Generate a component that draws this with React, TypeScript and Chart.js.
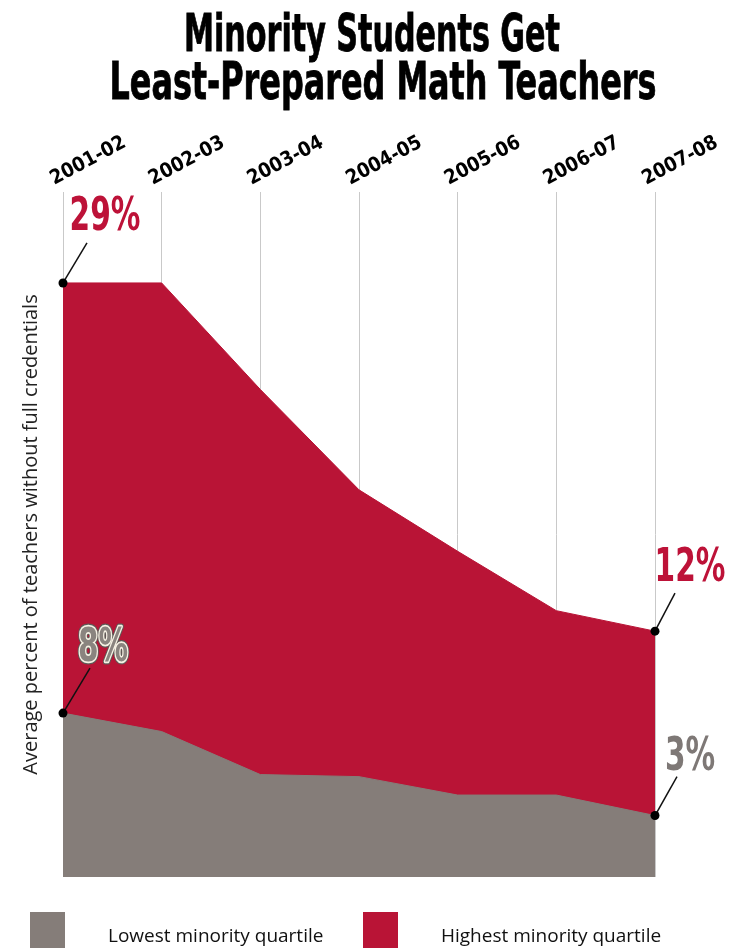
import React, { useEffect, useRef } from 'react';
import { Chart, registerables } from 'chart.js';

Chart.register(...registerables);

const TITLE_LINES = ['Minority Students Get', 'Least-Prepared Math Teachers'];
const Y_TITLE = 'Average percent of teachers without full credentials';
const YEARS = ['2001-02', '2002-03', '2003-04', '2004-05', '2005-06', '2006-07', '2007-08'];
const HIGHEST = [29, 29, 23.8, 18.9, 15.9, 13.0, 12];
const LOWEST = [8, 7.1, 5.0, 4.9, 4.0, 4.0, 3];
const SERIES_LABELS = ['Lowest minority quartile', 'Highest minority quartile'];

const GRAY = '#857d79';
const RED = '#b91436';
const COND = "'DejaVu Sans Condensed', 'DejaVu Sans', sans-serif";
const BODY = "'Open Sans', 'Noto Sans', sans-serif";

const titlePlugin = {
  id: 'condTitle',
  afterDraw(chart: any) {
    const ctx = chart.ctx;
    ctx.save();
    ctx.font = `bold 51px ${COND}`;
    ctx.fillStyle = '#000';
    ctx.textAlign = 'center';
    ctx.textBaseline = 'alphabetic';
    const pos = [
      [372, 51, 376],
      [383, 99, 547],
    ];
    TITLE_LINES.forEach((t, i) => {
      const w = ctx.measureText(t).width;
      ctx.save();
      ctx.translate(pos[i][0], pos[i][1]);
      ctx.scale(pos[i][2] / w, 1);
      ctx.fillText(t, 0, 0);
      ctx.lineWidth = 0.8;
      ctx.strokeStyle = '#000';
      ctx.strokeText(t, 0, 0);
      ctx.restore();
    });
    ctx.restore();
  },
};

function condText(ctx: any, text: string, x: number, y: number, size: number, sx: number, draw: (c: any) => void) {
  ctx.save();
  ctx.translate(x, y);
  ctx.scale(sx, 1);
  ctx.font = `bold ${size}px ${COND}`;
  ctx.textAlign = 'center';
  ctx.textBaseline = 'middle';
  draw(ctx);
  ctx.restore();
}

const annotationPlugin = {
  id: 'pctLabels',
  afterDatasetsDraw(chart: any) {
    const ctx = chart.ctx;
    const gray = chart.getDatasetMeta(0).data;
    const red = chart.getDatasetMeta(1).data;
    const last = YEARS.length - 1;
    const items = [
      { pt: red[0], v: HIGHEST[0], dx: 42, dy: -65, lx: 24, ly: -40, kind: 'red' },
      { pt: red[last], v: HIGHEST[last], dx: 35, dy: -62, lx: 20, ly: -38, kind: 'red' },
      { pt: gray[0], v: LOWEST[0], dx: 40, dy: -64, lx: 27, ly: -45, kind: 'outline' },
      { pt: gray[last], v: LOWEST[last], dx: 35, dy: -58, lx: 22, ly: -39, kind: 'gray' },
    ];
    ctx.save();
    items.forEach((it) => {
      const { x, y } = it.pt;
      ctx.beginPath();
      ctx.moveTo(x, y);
      ctx.lineTo(x + it.lx, y + it.ly);
      ctx.strokeStyle = '#111';
      ctx.lineWidth = 1.5;
      ctx.stroke();
      ctx.beginPath();
      ctx.arc(x, y, 4.5, 0, Math.PI * 2);
      ctx.fillStyle = '#000';
      ctx.fill();
      const txt = `${it.v}%`;
      condText(ctx, txt, x + it.dx, y + it.dy, 47, 0.7, (c) => {
        if (it.kind === 'red') {
          c.fillStyle = '#bd1238';
          c.fillText(txt, 0, 0);
        } else if (it.kind === 'outline') {
          c.lineJoin = 'round';
          c.strokeStyle = '#5e5a57';
          c.lineWidth = 6;
          c.strokeText(txt, 0, 0);
          c.strokeStyle = '#f6f1e4';
          c.lineWidth = 3.5;
          c.strokeText(txt, 0, 0);
          c.fillStyle = '#8a847f';
          c.fillText(txt, 0, 0);
        } else {
          c.fillStyle = '#7e7876';
          c.fillText(txt, 0, 0);
        }
      });
    });
    ctx.restore();
  },
};

const legendPlugin = {
  id: 'bottomLegend',
  afterDraw(chart: any) {
    const ctx = chart.ctx;
    const colors = [GRAY, RED];
    const boxX = [30, 363];
    ctx.save();
    SERIES_LABELS.forEach((label, i) => {
      ctx.fillStyle = colors[i];
      ctx.fillRect(boxX[i], 912, 35, 40);
      ctx.fillStyle = '#111';
      ctx.font = `19px ${BODY}`;
      ctx.textAlign = 'left';
      ctx.textBaseline = 'alphabetic';
      ctx.fillText(label, boxX[i] + 78, 942);
    });
    ctx.restore();
  },
};

export default function App() {
  const ref = useRef<HTMLCanvasElement | null>(null);

  useEffect(() => {
    if (!ref.current) return;
    const chart = new Chart(ref.current, {
      type: 'line',
      data: {
        labels: YEARS,
        datasets: [
          {
            label: SERIES_LABELS[0],
            data: LOWEST,
            backgroundColor: GRAY,
            borderColor: GRAY,
            borderWidth: 1,
            fill: 'origin',
            tension: 0,
            pointRadius: 0,
          },
          {
            label: SERIES_LABELS[1],
            data: HIGHEST,
            backgroundColor: RED,
            borderColor: RED,
            borderWidth: 1,
            fill: 'origin',
            tension: 0,
            pointRadius: 0,
          },
        ],
      },
      options: {
        animation: false,
        responsive: false,
        layout: { padding: { top: 0, left: 0, right: 83, bottom: 71 } },
        plugins: {
          legend: { display: false },
          title: { display: false },
          tooltip: { enabled: false },
        },
        scales: {
          x: {
            type: 'category',
            position: 'top',
            offset: false,
            grid: { display: true, color: '#c9c9c9', lineWidth: 1, drawTicks: false },
            border: { display: false },
            ticks: {
              color: '#000',
              minRotation: 28,
              maxRotation: 28,
              padding: 1,
              font: { family: COND, weight: 'bold', size: 20 },
            },
            afterFit: (scale: any) => {
              scale.height = 192;
            },
          },
          y: {
            min: 0,
            max: 33.44,
            position: 'left',
            grid: { display: false },
            border: { display: false },
            ticks: { display: false },
            title: {
              display: true,
              text: Y_TITLE,
              color: '#222',
              font: { family: BODY, size: 20, weight: 'normal' },
              padding: { top: 19, bottom: 0 },
            },
            afterFit: (scale: any) => {
              scale.width = 63;
            },
          },
        },
      },
      plugins: [titlePlugin, annotationPlugin, legendPlugin],
    } as any);
    return () => chart.destroy();
  }, []);

  return (
    <div style={{ position: 'absolute', left: 0, top: 0, width: 738, height: 948, background: '#fff' }}>
      <canvas ref={ref} width={738} height={948} style={{ display: 'block' }} />
    </div>
  );
}
